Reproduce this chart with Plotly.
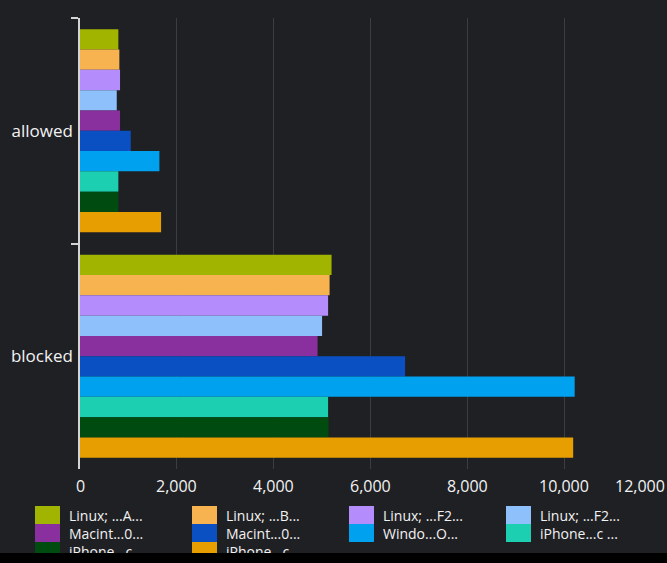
import plotly.graph_objects as go

# Request counts per user agent, split by action
categories = ["allowed", "blocked"]
agents = [
    "Linux; ...A...",
    "Linux; ...B...",
    "Linux; ...F2...",
    "Linux; ...F2...",
    "Macint...0...",
    "Macint...0...",
    "Windo...O...",
    "iPhone...c ...",
    "iPhone...c ...",
    "iPhone...c ...",
]
allowed_counts = [792, 813, 827, 759, 827, 1048, 1640, 792, 792, 1675]
blocked_counts = [5196, 5155, 5124, 5000, 4907, 6715, 10217, 5124, 5134, 10186]
colors = [
    "#a0b400", "#f7b34f", "#b48cfb", "#8ec0fc", "#8a2f9e",
    "#0a50c2", "#00a2ef", "#1bcfb0", "#004b10", "#e69e00",
]
x_ticks = [0, 2000, 4000, 6000, 8000, 10000, 12000]

BG = "#1f2024"
TEXT = "#f2f2f2"
FONT = "Open Sans"

fig = go.Figure()
for name, a, b, c in zip(agents, allowed_counts, blocked_counts, colors):
    fig.add_trace(go.Bar(
        y=categories, x=[a, b], name=name, orientation="h",
        marker=dict(color=c, line=dict(width=0)), showlegend=False,
    ))

W, H = 667, 553
ml, mr, mt, mb = 80, 6, 18, H - 469

fig.update_layout(
    width=W, height=H,
    margin=dict(l=ml, r=mr, t=mt, b=mb, pad=0),
    paper_bgcolor=BG, plot_bgcolor=BG,
    barmode="group", bargap=0.1, bargroupgap=0,
    font=dict(family=FONT, color=TEXT),
    xaxis=dict(
        range=[0, 12000], tickvals=x_ticks, showticklabels=False,
        showgrid=True, gridcolor="#3b3d42", gridwidth=1,
        zeroline=False, showline=False, ticks="",
        fixedrange=True, automargin=False,
    ),
    yaxis=dict(
        autorange="reversed", categoryorder="array", categoryarray=categories,
        showline=True, linecolor="#d4d4d4", linewidth=1.5,
        ticks="outside", tickson="boundaries", ticklen=7, tickcolor="#d4d4d4",
        tickwidth=1.5, showgrid=False, zeroline=False,
        tickfont=dict(size=17, color=TEXT, family=FONT),
        ticklabelstandoff=2, automargin=False,
    ),
)

# x tick labels; the last one is pinned inside the page edge
for v in x_ticks:
    last = v == x_ticks[-1]
    fig.add_annotation(
        x=v, xref="x", y=0, yref="paper", yanchor="top",
        xanchor="right" if last else "center", xshift=mr if last else 0,
        yshift=-4, text=f"{v:,}", showarrow=False,
        font=dict(size=16, color=TEXT, family=FONT),
    )

# Four-column legend below the plot
col_x = [35, 192, 349, 506]
row_top = 506
row_h = 18
sw_w = 25
pw, ph = W - ml - mr, H - mt - mb
for i, (name, c) in enumerate(zip(agents, colors)):
    col, row = i % 4, i // 4
    x0 = col_x[col]
    y0 = row_top + row * row_h
    fig.add_shape(
        type="rect", xref="paper", yref="paper",
        x0=(x0 - ml) / pw, x1=(x0 + sw_w - ml) / pw,
        y0=(H - mb - y0) / ph, y1=(H - mb - y0 - row_h) / ph,
        fillcolor=c, line=dict(width=0),
    )
    fig.add_annotation(
        xref="paper", yref="paper",
        x=(x0 + sw_w + 7 - ml) / pw,
        y=(H - mb - y0 - row_h / 2) / ph,
        xanchor="left", yanchor="middle", text=name, showarrow=False,
        font=dict(size=14, color=TEXT, family=FONT),
    )

fig.write_html(
    "out.html",
    post_script="document.body.style.background='#000';document.body.style.margin='0';",
)
